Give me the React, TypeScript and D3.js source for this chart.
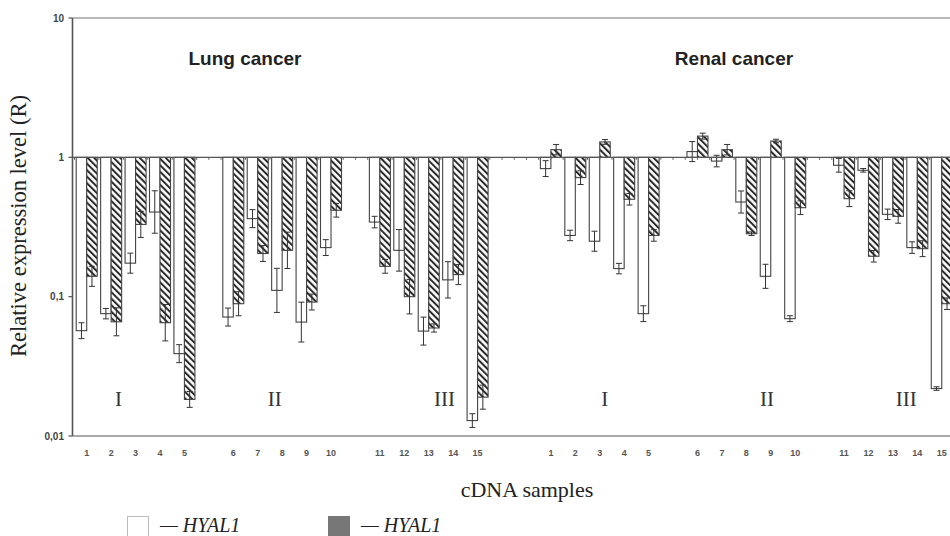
import * as d3 from 'd3';
import React from 'react';

// relative expression (R); error given as a fold factor (v/f .. v*f)
const sampleLabels = ['1', '2', '3', '4', '5', '6', '7', '8', '9', '10', '11', '12', '13', '14', '15'];
const panels = ['Lung cancer', 'Renal cancer'];
const groupNumerals = ['I', 'II', 'III'];

const lungWhite = [0.057, 0.0755, 0.174, 0.405, 0.039, 0.0714, 0.363, 0.111, 0.0657, 0.225, 0.343, 0.215, 0.0566, 0.132, 0.0129];
const lungWhiteErr = [1.14, 1.09, 1.18, 1.42, 1.16, 1.16, 1.16, 1.44, 1.39, 1.14, 1.1, 1.41, 1.26, 1.35, 1.12];
const lungHatched = [0.14, 0.066, 0.33, 0.065, 0.0183, 0.089, 0.204, 0.215, 0.0915, 0.417, 0.165, 0.1, 0.0596, 0.144, 0.019];
const lungHatchedErr = [1.18, 1.26, 1.24, 1.35, 1.14, 1.22, 1.14, 1.35, 1.14, 1.12, 1.12, 1.33, 1.07, 1.18, 1.22];

const renalWhite = [0.83, 0.275, 0.25, 0.159, 0.0755, 1.1, 0.94, 0.478, 0.14, 0.0695, 0.877, 0.807, 0.39, 0.225, 0.0219];
const renalWhiteErr = [1.14, 1.09, 1.18, 1.09, 1.14, 1.18, 1.1, 1.2, 1.22, 1.05, 1.12, 1.03, 1.09, 1.1, 1.03];
const renalHatched = [1.135, 0.715, 1.29, 0.5, 0.275, 1.42, 1.135, 0.283, 1.31, 0.435, 0.505, 0.195, 0.377, 0.221, 0.089];
const renalHatchedErr = [1.09, 1.12, 1.04, 1.1, 1.1, 1.05, 1.09, 1.03, 1.03, 1.12, 1.14, 1.1, 1.12, 1.14, 1.1];

// where the roman numerals sit: [sample index, fraction of a slot to the right]
const lungNumeralPos: [number, number][] = [[1, 0.3], [6, 0.7], [12, 0.65]];
const renalNumeralPos: [number, number][] = [[2, 0.2], [8, -0.15], [12, 0.55]];

const yTicks = [10, 1, 0.1, 0.01];
const yTickLabels = ['10', '1', '0,1', '0,01'];

const W = 950;
const H = 536;
const SANS = '"Liberation Sans", Arial, sans-serif';
const SERIF = '"Liberation Serif", "Times New Roman", serif';

type Bar = { key: string; series: 'white' | 'hatched'; value: number; err: number };

export default function App() {
  // slots: sample slots plus empty spacer slots between groups and panels
  const slotKeys: string[] = [];
  panels.forEach((p, pi) => {
    if (pi > 0) slotKeys.push(`gap-p${pi}a`, `gap-p${pi}b`);
    for (let g = 0; g < 3; g++) {
      if (g > 0) slotKeys.push(`gap-${pi}-${g}`);
      for (let s = 0; s < 5; s++) slotKeys.push(`${pi}-${g * 5 + s}`);
    }
  });

  const step = 24.43;
  const x0 = 74.5;
  const x = d3.scaleBand<string>().domain(slotKeys).range([x0, x0 + step * slotKeys.length]);
  const pairW = x.bandwidth() * 0.86;
  const inner = d3
    .scaleBand<string>()
    .domain(['white', 'hatched'])
    .range([(x.bandwidth() - pairW) / 2, (x.bandwidth() + pairW) / 2]);

  const y = d3.scaleLog().domain([0.01, 10]).range([436, 18]);

  const bars: Bar[] = [];
  const sets = [
    [lungWhite, lungWhiteErr, lungHatched, lungHatchedErr],
    [renalWhite, renalWhiteErr, renalHatched, renalHatchedErr],
  ];
  sets.forEach(([w, we, h, he], pi) => {
    sampleLabels.forEach((_, i) => {
      bars.push({ key: `${pi}-${i}`, series: 'white', value: w[i], err: we[i] });
      bars.push({ key: `${pi}-${i}`, series: 'hatched', value: h[i], err: he[i] });
    });
  });

  const center = (k: string) => (x(k) ?? 0) + x.bandwidth() / 2;
  const y1 = y(1);
  const axisX = 72.5;

  const numerals = [lungNumeralPos, renalNumeralPos].flatMap((pos, pi) =>
    pos.map(([s, f], g) => ({ text: groupNumerals[g], x: center(`${pi}-${s}`) + f * step }))
  );

  // small ticks along the R = 1 line
  const baseTicks: number[] = [];
  slotKeys.forEach(k => {
    baseTicks.push(x(k) ?? 0);
    baseTicks.push(center(k));
  });

  return (
    <svg
      width={W}
      height={H}
      style={{ position: 'absolute', left: 0, top: 0, background: '#fff' }}
    >
      <defs>
        <pattern
          id="hatch"
          width={4.6}
          height={4.6}
          patternUnits="userSpaceOnUse"
          patternTransform="rotate(-45)"
        >
          <rect width={4.6} height={4.6} fill="#fff" />
          <rect x={0} y={0} width={2} height={4.6} fill="#2a2a2a" />
        </pattern>
        <clipPath id="plot">
          <rect x={axisX} y={0} width={W - axisX} height={H} />
        </clipPath>
      </defs>

      {/* frame lines */}
      <line x1={axisX} x2={W} y1={y(10)} y2={y(10)} stroke="#777" strokeWidth={1.2} />
      <line x1={axisX} x2={W} y1={y(0.01)} y2={y(0.01)} stroke="#aaa" strokeWidth={2} />

      {/* panel titles */}
      <text x={245} y={65} textAnchor="middle" fontFamily={SANS} fontWeight="bold" fontSize={19} fill="#222">
        {panels[0]}
      </text>
      <text x={734} y={65} textAnchor="middle" fontFamily={SANS} fontWeight="bold" fontSize={19} fill="#222">
        {panels[1]}
      </text>

      {/* group numerals */}
      {numerals.map((n, i) => (
        <text key={i} x={n.x} y={406} textAnchor="middle" fontFamily={SERIF} fontSize={21} fill="#333">
          {n.text}
        </text>
      ))}

      <g clipPath="url(#plot)">
        {baseTicks.map((t, i) => (
          <line key={i} x1={t} x2={t} y1={y1} y2={y1 + 2.5} stroke="#666" strokeWidth={1} />
        ))}
        {bars.map((b, i) => {
          const bx = (x(b.key) ?? 0) + (inner(b.series) ?? 0);
          const vy = y(b.value);
          const top = Math.min(vy, y1);
          const hgt = Math.abs(vy - y1);
          const cx = bx + inner.bandwidth() / 2;
          const lo = y(b.value / b.err);
          const hi = y(b.value * b.err);
          return (
            <g key={i}>
              <rect
                x={bx}
                y={top}
                width={inner.bandwidth()}
                height={hgt}
                fill={b.series === 'white' ? '#fff' : 'url(#hatch)'}
                stroke="#444"
                strokeWidth={1.1}
              />
              <line x1={cx} x2={cx} y1={hi} y2={lo} stroke="#333" strokeWidth={1} />
              <line x1={cx - 3} x2={cx + 3} y1={hi} y2={hi} stroke="#333" strokeWidth={1} />
              <line x1={cx - 3} x2={cx + 3} y1={lo} y2={lo} stroke="#333" strokeWidth={1} />
            </g>
          );
        })}
        <line x1={axisX} x2={W} y1={y1} y2={y1} stroke="#555" strokeWidth={1.4} />
      </g>

      {/* y axis */}
      <line x1={axisX} x2={axisX} y1={y(10)} y2={y(0.01)} stroke="#555" strokeWidth={1.6} />
      {yTicks.map((t, i) => (
        <g key={t}>
          <line x1={axisX - 4} x2={axisX} y1={y(t)} y2={y(t)} stroke="#555" strokeWidth={1.2} />
          <text
            x={64}
            y={y(t) + 3.5}
            textAnchor="end"
            fontFamily={SANS}
            fontWeight="bold"
            fontSize={10}
            fill="#444"
          >
            {yTickLabels[i]}
          </text>
        </g>
      ))}

      {/* sample labels */}
      {bars
        .filter(b => b.series === 'white')
        .map(b => (
          <text
            key={b.key}
            x={center(b.key)}
            y={456}
            textAnchor="middle"
            fontFamily={SANS}
            fontWeight="bold"
            fontSize={9}
            fill="#555"
          >
            {sampleLabels[+b.key.split('-')[1]]}
          </text>
        ))}

      {/* axis titles */}
      <text
        transform="translate(26,226) rotate(-90)"
        textAnchor="middle"
        fontFamily={SERIF}
        fontSize={22.5}
        fill="#222"
      >
        Relative expression level (R)
      </text>
      <text x={527} y={497} textAnchor="middle" fontFamily={SERIF} fontSize={22} fill="#222">
        cDNA samples
      </text>

      {/* legend */}
      <rect x={127.5} y={516.5} width={21} height={22} fill="#fff" stroke="#bbb" strokeWidth={1} />
      <text x={160} y={532} fontFamily={SERIF} fontStyle="italic" fontSize={20} fill="#222">
        — HYAL1
      </text>
      <rect x={328} y={516} width={22} height={22} fill="#777" />
      <text x={361} y={532} fontFamily={SERIF} fontStyle="italic" fontSize={20} fill="#222">
        — HYAL1
      </text>
    </svg>
  );
}
